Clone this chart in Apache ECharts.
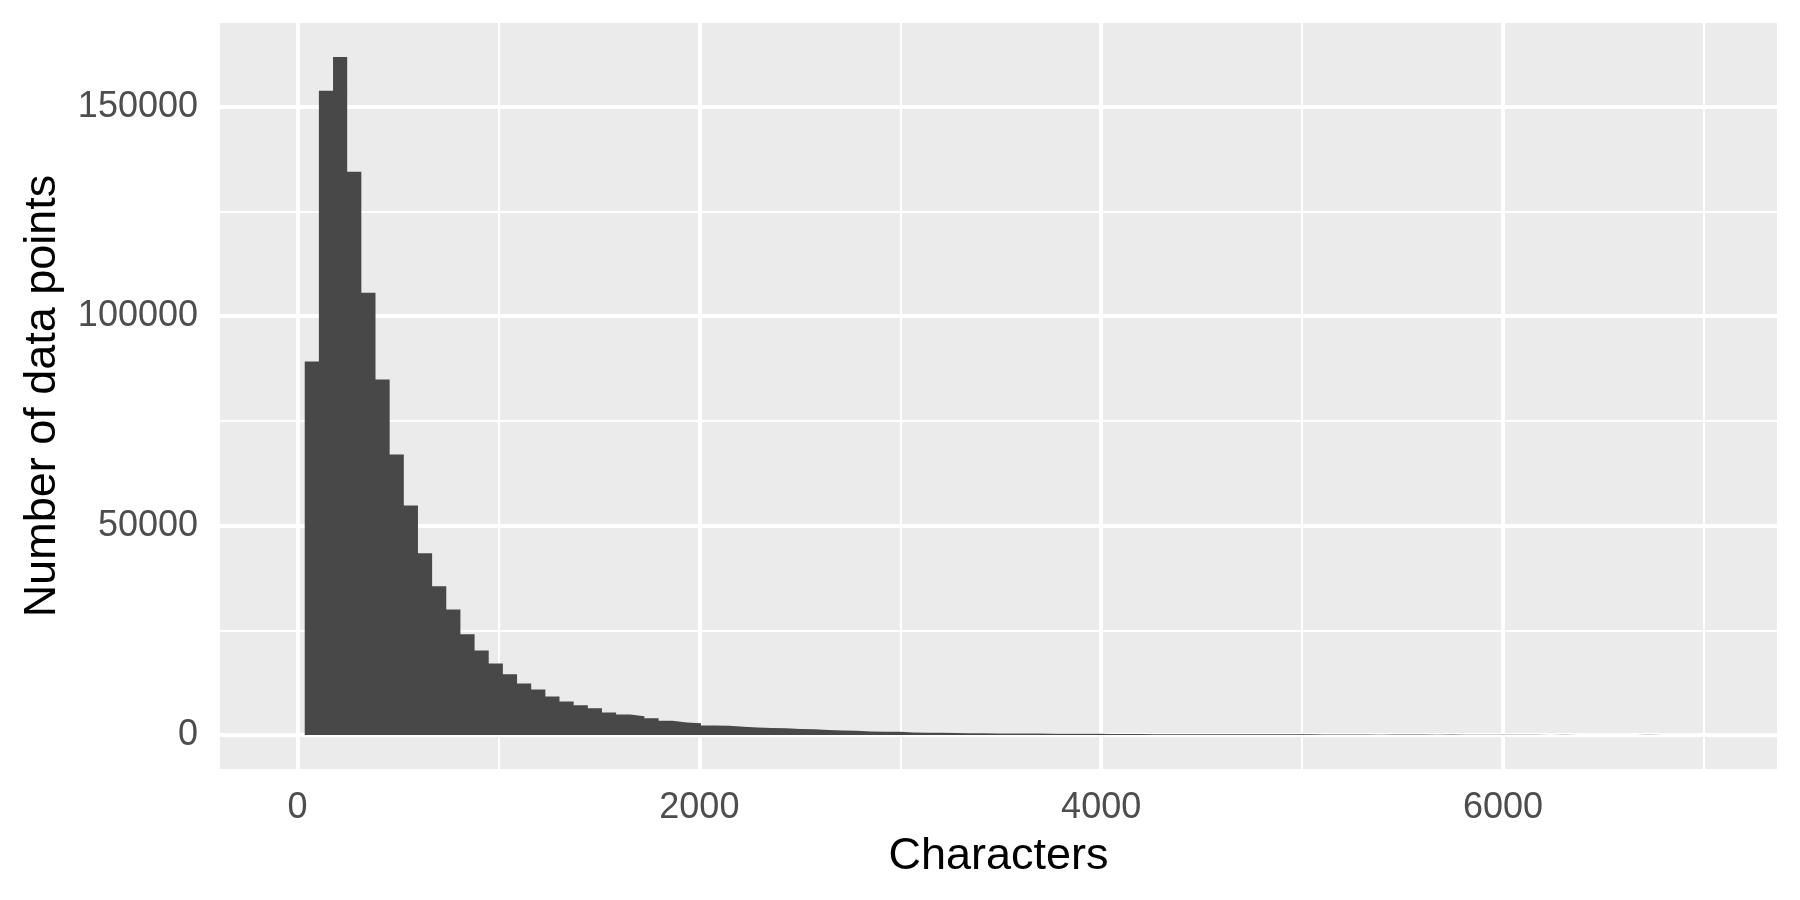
<!DOCTYPE html>
<html>
<head>
<meta charset="utf-8">
<title>Characters histogram</title>
<script src="https://cdn.jsdelivr.net/npm/echarts@6/dist/echarts.min.js"></script>
<style>
  html, body { margin: 0; padding: 0; background: #fff; }
  #chart { width: 1800px; height: 900px; }
</style>
</head>
<body>
<div id="chart"></div>
<script>
// histogram bins: 100 bins of equal width, first left edge at binStart
const binStart = -34.7;
const binWidth = 70.45;
const counts = [
  0,
  89200, 153800, 161900, 134500, 105600, 84900, 67000, 54800, 43400, 35500,
  30000, 24100, 20200, 17100, 14500, 12300, 10900, 9200, 8000, 7100,
  6400, 5400, 4900, 4500, 4000, 3400, 3000, 2800, 2300, 2200,
  2000, 1800, 1700, 1600, 1450, 1380, 1200, 1120, 1050, 880,
  820, 780, 640, 580, 540, 500, 440, 420, 400, 380,
  370, 350, 340, 330, 320, 300, 250, 240, 230, 220,
  215, 210, 205, 200, 195, 190, 185, 180, 180, 175,
  170, 165, 160, 160, 150, 70, 150, 145, 140, 60,
  140, 60, 100, 95, 55, 50, 90, 45, 85, 40,
  40, 38, 35, 35, 80, 30, 30, 28, 25
];

const xTicks = [0, 2000, 4000, 6000];
const xMinor = [1000, 3000, 5000, 7000];
const yTicks = [0, 50000, 100000, 150000];
const yMinor = [25000, 75000, 125000];

const font = "'Liberation Sans', Arial, Helvetica, sans-serif";

// step points: left edge of every bin, then close at the right edge of the last one
const stepData = counts.map((c, i) => [binStart + i * binWidth, c]);
stepData.push([binStart + counts.length * binWidth, 0]);

const gridLines = [];
xTicks.forEach(v => gridLines.push({ xAxis: v, lineStyle: { width: 4 } }));
xMinor.forEach(v => gridLines.push({ xAxis: v, lineStyle: { width: 2 } }));
yTicks.forEach(v => gridLines.push({ yAxis: v, lineStyle: { width: 4 } }));
yMinor.forEach(v => gridLines.push({ yAxis: v, lineStyle: { width: 2 } }));

const chart = echarts.init(document.getElementById('chart'));

const option = {
  animation: false,
  backgroundColor: '#ffffff',
  textStyle: { fontFamily: font },
  grid: {
    left: 220, right: 23, top: 23, bottom: 131,
    show: true, backgroundColor: '#EBEBEB', borderWidth: 0
  },
  xAxis: {
    type: 'value',
    min: -386, max: 7364,
    name: 'Characters',
    nameLocation: 'middle',
    nameGap: 65,
    nameTextStyle: { color: '#000', fontSize: 45, fontFamily: font },
    axisLine: { show: false },
    axisTick: { show: true, length: 11, customValues: xTicks, lineStyle: { color: '#333333', width: 4 } },
    axisLabel: {
      customValues: xTicks, color: '#4D4D4D', fontSize: 36, margin: 21, fontFamily: font,
      formatter: v => String(v)
    },
    splitLine: { show: false }
  },
  yAxis: {
    type: 'value',
    min: -8100, max: 170000,
    name: 'Number of data points',
    nameLocation: 'middle',
    nameGap: 155,
    nameTextStyle: { color: '#000', fontSize: 45, fontFamily: font },
    axisLine: { show: false },
    axisTick: { show: true, length: 11, customValues: yTicks, lineStyle: { color: '#333333', width: 4 } },
    axisLabel: {
      customValues: yTicks, color: '#4D4D4D', fontSize: 36, margin: 22, fontFamily: font,
      formatter: v => String(v)
    },
    splitLine: { show: false }
  },
  series: [
    {
      // white panel grid lines, kept under the bars
      type: 'line',
      data: [],
      z: 1,
      silent: true,
      markLine: {
        z: 1,
        silent: true,
        symbol: ['none', 'none'],
        label: { show: false },
        lineStyle: { color: '#ffffff', type: 'solid' },
        data: gridLines
      }
    },
    {
      type: 'line',
      step: 'end',
      data: stepData,
      z: 10,
      showSymbol: false,
      silent: true,
      lineStyle: { width: 0, opacity: 0 },
      areaStyle: { color: '#484848', opacity: 1, origin: 0 }
    }
  ]
};

chart.setOption(option);
</script>
</body>
</html>
